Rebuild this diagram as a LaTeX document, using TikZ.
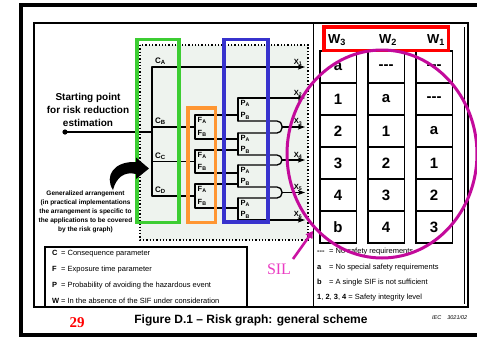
\documentclass[tikz,border=0pt]{standalone}
\usepackage{fontspec}
\setmainfont{Liberation Sans}
\newfontfamily\serifF{Liberation Serif}
\usetikzlibrary{arrows.meta}
\definecolor{gboxc}{RGB}{60,205,50}
\definecolor{oboxc}{RGB}{255,150,50}
\definecolor{bboxc}{RGB}{55,50,205}
\definecolor{rboxc}{RGB}{255,0,0}
\definecolor{magc}{RGB}{195,10,155}
\definecolor{silc}{RGB}{235,60,195}
\definecolor{bgc}{RGB}{238,243,238}
\newcommand\sbs[1]{\textsubscript{#1}}
\begin{document}
\begin{tikzpicture}[x=1pt,y=-1pt,
  wire/.style={line width=1.3pt,line cap=round,line join=round},
  arr/.style={wire,-{Stealth[length=7pt,width=5pt,inset=1.5pt]}},
  ubend/.style={wire,rounded corners=5pt},
  frame/.style={line width=1.3pt},
  hl/.style={line width=3.8pt},
  clab/.style={font=\fontsize{8}{9}\selectfont\bfseries,inner sep=0pt,anchor=base west},
  flab/.style={font=\fontsize{7.5}{8}\selectfont\bfseries,inner sep=0pt,anchor=west},
  xlab/.style={font=\fontsize{7.5}{8}\selectfont\bfseries,inner sep=0pt,anchor=south},
  cellbox/.style={draw,line width=1.5pt,minimum width=36.5pt,minimum height=32pt,inner sep=0pt,font=\fontsize{15}{16}\selectfont\bfseries},
  whead/.style={font=\fontsize{13}{15}\selectfont\bfseries,inner sep=0pt},
  leg/.style={font=\fontsize{7.5}{8}\selectfont,inner sep=0pt,anchor=west},
]
\useasboundingbox (0,0) rectangle (477,338);
\clip (0,0) rectangle (477,338);
\fill[white] (0,0) rectangle (477,338);
% frames
\draw[line width=4pt] (21,5) rectangle (495,335);
\draw[frame] (34,23) rectangle (468,307);
\draw[frame] (313.5,23) rectangle (468,307);
\draw[frame] (464.5,27) -- (464.5,304);
\draw[frame] (45,247) rectangle (247,307);
% dotted area
\draw[dotted,line width=1.3pt,fill=bgc] (140,45) rectangle (308,240);
% start
\coordinate (st) at (65,132);
\coordinate (stj) at (152,132);
\fill (st) circle (2.6);
\draw[wire] (st) -- (stj);
% trunk
\coordinate (tA) at (152,67);
\coordinate (tB) at (152,127);
\coordinate (tC) at (152,161.5);
\coordinate (tD) at (152,196);
\coordinate (x1) at (305,67);
\draw[arr] (tD) -- (tA) -- (x1);
% F brackets
\coordinate (fBm) at (195,127);
\coordinate (fCm) at (195,161.5);
\coordinate (fDm) at (195,196);
\draw[wire] (tB) -- (fBm);
\draw[wire] (tC) -- (fCm);
\draw[wire] (tD) -- (fDm);
\coordinate (f1a) at (195,115); \coordinate (f1b) at (195,139);
\coordinate (f2a) at (195,150); \coordinate (f2b) at (195,173);
\coordinate (f3a) at (195,184); \coordinate (f3b) at (195,208);
\coordinate (q1a) at (238,115); \coordinate (q1b) at (238,139);
\coordinate (q2a) at (238,150); \coordinate (q2b) at (238,173);
\coordinate (q3a) at (238,184); \coordinate (q3b) at (238,208);
\draw[wire] (q1a) -- (f1a) -- (f1b) -- (q1b);
\draw[wire] (q2a) -- (f2a) -- (f2b) -- (q2b);
\draw[wire] (q3a) -- (f3a) -- (f3b) -- (q3b);
% P groups
\coordinate (g1t) at (238,98);  \coordinate (g1b) at (238,121);
\coordinate (g2t) at (238,133); \coordinate (g2b) at (238,155);
\coordinate (g3t) at (238,165); \coordinate (g3b) at (238,187);
\coordinate (g4t) at (238,198); \coordinate (g4b) at (238,220);
\coordinate (x2) at (305,98);
\coordinate (x3) at (305,127);
\coordinate (x4) at (305,160);
\coordinate (x5) at (305,192.5);
\coordinate (x6) at (305,220);
\coordinate (u1t) at (282,121); \coordinate (u1b) at (282,133); \coordinate (u1m) at (282,127);
\coordinate (u2t) at (282,155); \coordinate (u2b) at (282,165); \coordinate (u2m) at (282,160);
\coordinate (u3t) at (282,187); \coordinate (u3b) at (282,198); \coordinate (u3m) at (282,192.5);
\draw[arr] (g1b) -- (g1t) -- (x2);
\draw[wire] (g2t) -- (g2b);
\draw[wire] (g3t) -- (g3b);
\draw[arr] (g4t) -- (g4b) -- (x6);
\draw[ubend] (g1b) -- (u1t) -- (u1b) -- (g2t);
\draw[ubend] (g2b) -- (u2t) -- (u2b) -- (g3t);
\draw[ubend] (g3b) -- (u3t) -- (u3b) -- (g4t);
\draw[arr] (u1m) -- (x3);
\draw[arr] (u2m) -- (x4);
\draw[arr] (u3m) -- (x5);
% labels C
\node[clab] (lCA) at (155,63.5) {C\sbs{A}};
\node[clab] (lCB) at (155,123.5) {C\sbs{B}};
\node[clab] (lCC) at (155,158) {C\sbs{C}};
\node[clab] (lCD) at (155,192.5) {C\sbs{D}};
% labels F
\node[flab] (lF1a) at (197.5,120.5) {F\sbs{A}};
\node[flab] (lF1b) at (197.5,133.5) {F\sbs{B}};
\node[flab] (lF2a) at (197.5,155.5) {F\sbs{A}};
\node[flab] (lF2b) at (197.5,167.5) {F\sbs{B}};
\node[flab] (lF3a) at (197.5,189.5) {F\sbs{A}};
\node[flab] (lF3b) at (197.5,202.5) {F\sbs{B}};
% labels P
\node[flab] (lP1a) at (240.5,103.5) {P\sbs{A}};
\node[flab] (lP1b) at (240.5,116) {P\sbs{B}};
\node[flab] (lP2a) at (240.5,138.5) {P\sbs{A}};
\node[flab] (lP2b) at (240.5,150) {P\sbs{B}};
\node[flab] (lP3a) at (240.5,170.5) {P\sbs{A}};
\node[flab] (lP3b) at (240.5,182) {P\sbs{B}};
\node[flab] (lP4a) at (240.5,203.5) {P\sbs{A}};
\node[flab] (lP4b) at (240.5,215) {P\sbs{B}};
% labels X
\node[xlab] (lX1) at (298,65.5) {X\sbs{1}};
\node[xlab] (lX2) at (298,96.5) {X\sbs{2}};
\node[xlab] (lX3) at (298,125.5) {X\sbs{3}};
\node[xlab] (lX4) at (298,158.5) {X\sbs{4}};
\node[xlab] (lX5) at (298,191) {X\sbs{5}};
\node[xlab] (lX6) at (298,218.5) {X\sbs{6}};
% coloured frames
\draw[hl,gboxc] (137,39.5) rectangle (179,222.5);
\draw[hl,oboxc] (188,108) rectangle (215.5,222.5);
\draw[hl,bboxc] (224,39.5) rectangle (268,222);
% left texts
\node[font=\fontsize{10}{13}\selectfont\bfseries,align=center,inner sep=0pt] (start) at (88,110) {Starting point\\for risk reduction\\estimation};
\node[font=\fontsize{6.5}{9}\selectfont\bfseries,align=center,inner sep=0pt] (gen) at (85.5,212) {Generalized arrangement\\(in practical implementations\\the arrangement is specific to\\the applications to be covered\\by the risk graph)};
\fill (113,190) .. controls (104,176) and (114,161) .. (136,162) -- (136,157.5) -- (149,168.5) -- (136,179) -- (136,174) .. controls (124,171) and (116,178) .. (113,190) -- cycle;
% left legend
\node[leg] (lg1) at (52,254) {\makebox[9pt][l]{\textbf{C}}= Consequence parameter};
\node[leg] (lg2) at (52,270) {\makebox[9pt][l]{\textbf{F}}= Exposure time parameter};
\node[leg] (lg3) at (52,285.5) {\makebox[9pt][l]{\textbf{P}}= Probability of avoiding the hazardous event};
\node[leg] (lg4) at (52,301) {\makebox[9pt][l]{\textbf{W}}= In the absence of the SIF under consideration};
% table
\foreach \v [count=\r] in {a,1,2,3,4,b} \node[cellbox] (ca\r) at (338,35+32*\r) {\v};
\foreach \v [count=\r] in {{-{}-{}-},a,1,2,3,4} \node[cellbox] (cb\r) at (386,35+32*\r) {\v};
\foreach \v [count=\r] in {{-{}-{}-},{-{}-{}-},a,1,2,3} \node[cellbox] (cc\r) at (434,35+32*\r) {\v};
\draw[line width=3.8pt,rboxc] (324,27) rectangle (448.5,50.5);
\node[whead] (w3) at (337,40) {W\sbs{3}};
\node[whead] (w2) at (388,40) {W\sbs{2}};
\node[whead] (w1) at (436,40) {W\sbs{1}};
% right legend
\node[leg] (lr1) at (317,252) {\makebox[12pt][l]{\textbf{-{}-{}-}}= No safety requirements};
\node[leg] (lr2) at (317,268) {\makebox[12pt][l]{\textbf{a}}= No special safety requirements};
\node[leg] (lr3) at (317,283) {\makebox[12pt][l]{\textbf{b}}= A single SIF is not sufficient};
\node[leg] (lr4) at (317,298) {\textbf{1}, \textbf{2}, \textbf{3}, \textbf{4} = Safety integrity level};
% ellipse and SIL
\draw[magc,line width=3pt] (382,154) ellipse [x radius=95, y radius=104];
\node[text=silc,font=\serifF\fontsize{16}{18}\selectfont,inner sep=0pt] (sil) at (279,269) {SIL};
\coordinate (siltip) at (313,231);
\coordinate (silfrom) at (293,259);
\draw[magc!80!silc,line width=2.6pt,-{Triangle[length=7pt,width=8pt]}] (silfrom) -- (siltip);
% caption
\node[font=\fontsize{12}{14}\selectfont\bfseries,inner sep=0pt] (cap) at (251,320) {Figure D.1 – Risk graph: general scheme};
\node[text=red,font=\serifF\fontsize{15}{16}\selectfont\bfseries,inner sep=0pt] (pg) at (77,323) {29};
\node[font=\fontsize{5.5}{6}\selectfont\itshape,inner sep=0pt,anchor=west] (iec) at (432,318) {IEC\hspace{6pt}3021/02};
\end{tikzpicture}
\end{document}
